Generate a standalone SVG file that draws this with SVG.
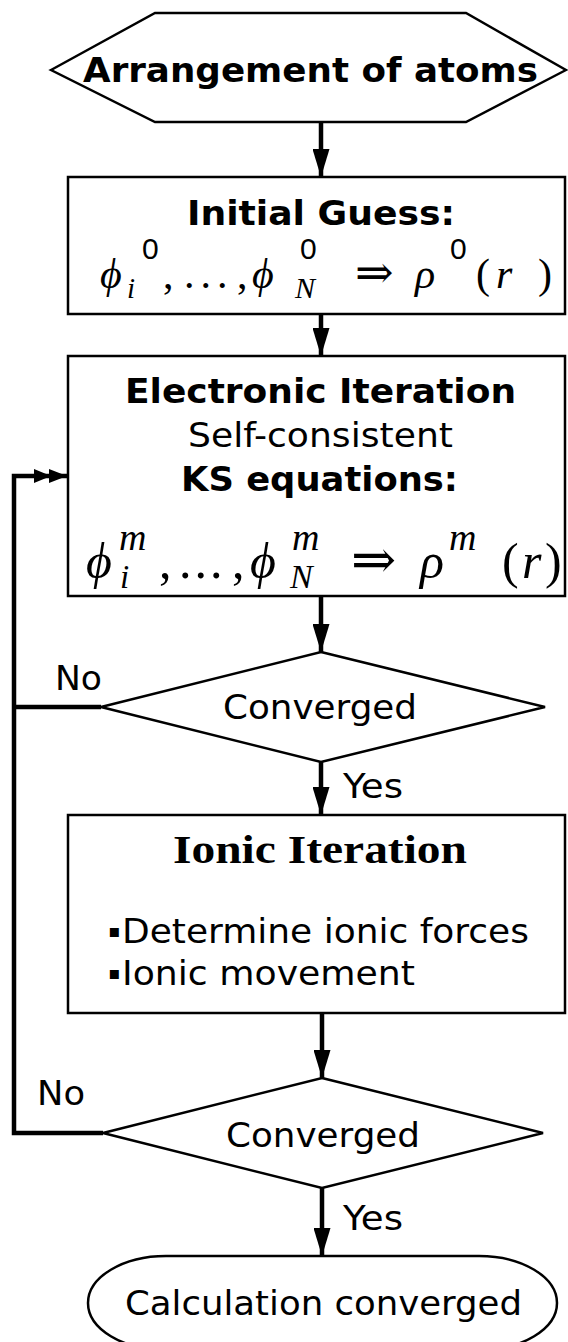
<svg xmlns="http://www.w3.org/2000/svg" width="568" height="1342" viewBox="0 0 568 1342">
<style>
.shape{fill:#fff;stroke:#000;stroke-width:2.5}
.conn{fill:none;stroke:#000;stroke-width:4.5}
.bold{font-family:"DejaVu Sans","Verdana",sans-serif;font-weight:bold;font-size:34px;fill:#000}
.reg{font-family:"DejaVu Sans","Verdana",sans-serif;font-size:34px;fill:#000}
.bullet{font-family:"DejaVu Sans",sans-serif;font-size:18px;fill:#000}
.serifb{font-family:"Liberation Serif","Times New Roman",serif;font-weight:bold;font-size:39px;fill:#000}
.math{font-family:"Liberation Serif","DejaVu Serif",serif;fill:#000}
.it{font-style:italic}
.up{font-family:"Liberation Serif",serif;font-style:normal}
.num{font-family:"Liberation Sans","DejaVu Sans",sans-serif;font-style:normal}
.arr{font-family:"DejaVu Serif","DejaVu Sans",serif;font-style:normal}
</style>
<defs>
<marker id="ah" markerUnits="userSpaceOnUse" markerWidth="28" markerHeight="17" refX="28" refY="8.5" orient="auto">
<path d="M0,0 L28,8.5 L0,17 z" fill="#000"/>
</marker>
<marker id="ah2" markerUnits="userSpaceOnUse" markerWidth="34" markerHeight="16" refX="33" refY="8" orient="auto">
<path d="M0,1 L17,8 L0,15 z M15,1 L33,8 L15,15 z" fill="#000"/>
</marker>
</defs>
<rect width="568" height="1342" fill="#fff"/>

<g id="connectors">
<line class="conn" x1="321" y1="122" x2="321" y2="177" marker-end="url(#ah)"/>
<line class="conn" x1="321" y1="314" x2="321" y2="356" marker-end="url(#ah)"/>
<line class="conn" x1="321" y1="596" x2="321" y2="652" marker-end="url(#ah)"/>
<line class="conn" x1="321" y1="762" x2="321" y2="815" marker-end="url(#ah)"/>
<line class="conn" x1="322" y1="1013" x2="322" y2="1078" marker-end="url(#ah)"/>
<line class="conn" x1="322" y1="1188" x2="322" y2="1256" marker-end="url(#ah)"/>
<polyline class="conn" points="101,707 14,707"/>
<polyline class="conn" points="103,1133 14,1133 14,476 67,476" marker-end="url(#ah2)"/>
<text class="reg" x="55" y="690" textLength="47" lengthAdjust="spacingAndGlyphs">No</text>
<text class="reg" x="37" y="1105" textLength="48" lengthAdjust="spacingAndGlyphs">No</text>
<text class="reg" x="343" y="798" textLength="60" lengthAdjust="spacingAndGlyphs">Yes</text>
<text class="reg" x="343" y="1230" textLength="60" lengthAdjust="spacingAndGlyphs">Yes</text>
</g>

<g id="start">
<polygon class="shape" points="51,70 155,13 466,13 566,70 466,122 155,122"/>
<text class="bold" x="83" y="82" textLength="455" lengthAdjust="spacingAndGlyphs">Arrangement of atoms</text>
</g>

<g id="initial-guess">
<rect class="shape" x="68" y="177" width="497" height="137"/>
<text class="bold" x="187" y="225" textLength="268" lengthAdjust="spacingAndGlyphs">Initial Guess:</text>
<text class="math it" font-size="42">
<tspan x="100" y="288">ϕ</tspan><tspan class="num" x="142" y="259" font-size="30">0</tspan><tspan x="127" y="298" font-size="29">i</tspan><tspan class="up" x="163" y="288">,</tspan><tspan class="up" x="184" y="288" letter-spacing="6">...</tspan><tspan class="up" x="237" y="288">,</tspan><tspan x="252" y="288">ϕ</tspan><tspan class="num" x="300" y="259" font-size="30">0</tspan><tspan x="295" y="298" font-size="30">N</tspan><tspan class="arr" x="355" y="288" font-size="46">⇒</tspan><tspan x="415" y="288">ρ</tspan><tspan class="num" x="450" y="259" font-size="30">0</tspan><tspan class="up" x="476" y="288">(</tspan><tspan x="496" y="288">r</tspan><tspan class="up" x="538" y="288">)</tspan>
</text>
</g>

<g id="electronic-iteration">
<rect class="shape" x="68" y="356" width="497" height="240"/>
<text class="bold" x="125" y="403" textLength="391" lengthAdjust="spacingAndGlyphs">Electronic Iteration</text>
<text class="reg" x="188" y="447" textLength="265" lengthAdjust="spacingAndGlyphs">Self-consistent</text>
<text class="bold" x="181" y="491" textLength="277" lengthAdjust="spacingAndGlyphs">KS equations:</text>
<text class="math it" font-size="50">
<tspan x="86" y="578">ϕ</tspan><tspan x="119" y="550" font-size="38">m</tspan><tspan x="120" y="588" font-size="33">i</tspan><tspan class="up" x="159" y="578">,</tspan><tspan class="up" x="179" y="578" letter-spacing="3">...</tspan><tspan class="up" x="232" y="578">,</tspan><tspan x="250" y="578">ϕ</tspan><tspan x="292" y="550" font-size="38">m</tspan><tspan x="290" y="588" font-size="34">N</tspan><tspan class="arr" x="351" y="578" font-size="54">⇒</tspan><tspan x="420" y="578">ρ</tspan><tspan x="449" y="550" font-size="38">m</tspan><tspan class="up" x="502" y="578">(</tspan><tspan x="522" y="578">r</tspan><tspan class="up" x="545" y="578">)</tspan>
</text>
</g>

<g id="converged-1">
<polygon class="shape" points="321,652 545,707 321,762 101,707" stroke-width="2"/>
<text class="reg" x="223" y="719" textLength="194" lengthAdjust="spacingAndGlyphs">Converged</text>
</g>

<g id="ionic-iteration">
<rect class="shape" x="68" y="815" width="497" height="198"/>
<text class="serifb" x="173" y="863" textLength="294" lengthAdjust="spacingAndGlyphs">Ionic Iteration</text>
<text class="bullet" x="108" y="937">▪</text>
<text class="reg" x="122" y="943" textLength="407" lengthAdjust="spacingAndGlyphs">Determine ionic forces</text>
<text class="bullet" x="108" y="979">▪</text>
<text class="reg" x="122" y="985" textLength="293" lengthAdjust="spacingAndGlyphs">Ionic movement</text>
</g>

<g id="converged-2">
<polygon class="shape" points="322,1078 543,1133 322,1188 103,1133" stroke-width="2"/>
<text class="reg" x="226" y="1147" textLength="194" lengthAdjust="spacingAndGlyphs">Converged</text>
</g>

<g id="end">
<rect class="shape" x="88" y="1256" width="469" height="94" rx="78" ry="47" stroke-width="2"/>
<text class="reg" x="125" y="1315" textLength="397" lengthAdjust="spacingAndGlyphs">Calculation converged</text>
</g>
</svg>
